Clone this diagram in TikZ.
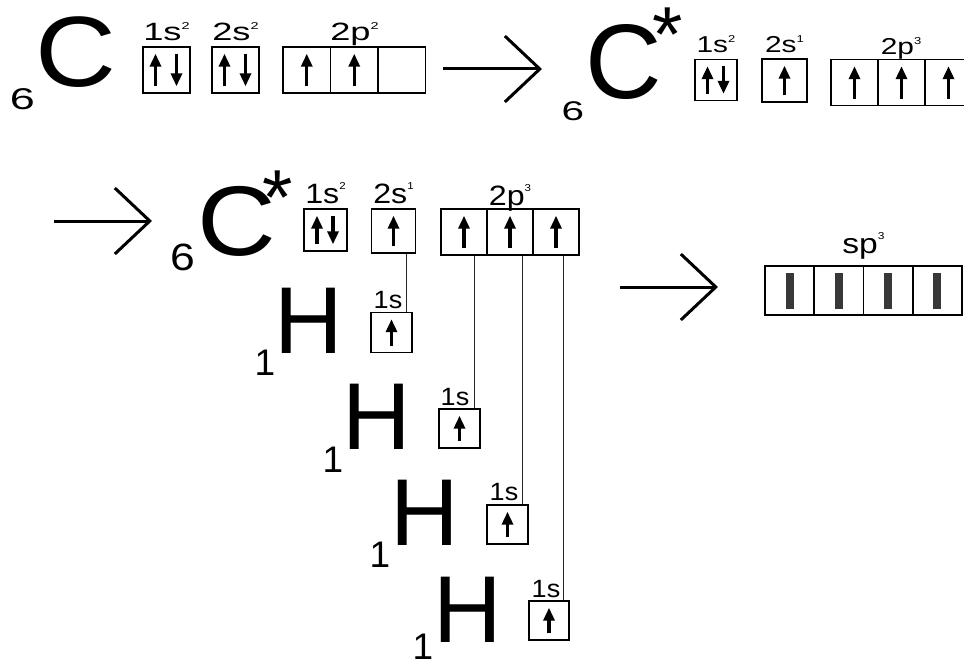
\documentclass[tikz,border=0pt]{standalone}
\usepackage{fontspec}
\usepackage{graphicx}
\setmainfont{Liberation Sans}
\usetikzlibrary{arrows.meta}

\newcommand\esup[1]{\raisebox{0.47em}{\fontsize{10}{10}\selectfont #1}}
\newcommand\wide[2]{\scalebox{#1}[1]{#2}}
\newcommand\spinup[2]{\draw[spin] ([xshift=#2]#1.south) -- ([xshift=#2]#1.north);}
\newcommand\spindn[2]{\draw[spin] ([xshift=#2]#1.north) -- ([xshift=#2]#1.south);}

\tikzset{
  glyph/.style={inner sep=0pt, anchor=base, font=\fontsize{#1}{#1}\selectfont},
  cell/.style 2 args={draw, line width=1.6pt, inner sep=0pt, minimum width=#1, minimum height=#2},
  spin/.style={line width=3.4pt, -{Triangle[length=13pt,width=11pt]}, shorten <=7.5pt, shorten >=7.5pt},
  bigarrow/.style={line width=3pt, -{Straight Barb[length=35pt,width=66pt]}},
  link/.style={line width=0.9pt, draw=black!85},
  bar/.style={fill=black!78, inner sep=0pt, minimum width=8pt, minimum height=36pt}
}

\begin{document}
\begin{tikzpicture}[x=1pt,y=-1pt]
  \useasboundingbox (0,0) rectangle (964,661);
  \clip (0,0) rectangle (964,661);
  \fill[white] (0,0) rectangle (964,661);
  % Carbon, ground state
  \node[glyph=30] (a6) at (22.5,110) {\wide{1.5}{6}};
  \node[glyph=100] (aC) at (76,87) {\wide{1.12}{C}};
  \node[glyph=25] (a1sl) at (166.5,41) {\wide{1.45}{1s\esup{2}}};
  \node[glyph=25] (a2sl) at (235.5,41) {\wide{1.45}{2s\esup{2}}};
  \node[glyph=25] (a2pl) at (354.5,41) {\wide{1.45}{2p\esup{2}}};
  \node[cell={47pt}{46pt}] (a1s) at (166.5,70) {};
  \node[cell={47pt}{46pt}] (a2s) at (235.5,70) {};
  \node[cell={47.5pt}{46pt}] (a2p1) at (306.75,70) {};
  \node[cell={47.5pt}{46pt}] (a2p2) at (354.25,70) {};
  \node[cell={47.5pt}{46pt}] (a2p3) at (401.75,70) {};
  \spinup{a1s}{-11pt} \spindn{a1s}{10pt}
  \spinup{a2s}{-11pt} \spindn{a2s}{10pt}
  \spinup{a2p1}{0pt} \spinup{a2p2}{0pt}
  \coordinate (ar1a) at (443,69);
  \coordinate (ar1b) at (542,69);
  \draw[bigarrow] (ar1a) -- (ar1b);

  % Carbon, excited state
  \node[glyph=27] (b6) at (573,120) {\wide{1.5}{6}};
  \node[glyph=106] (bC) at (624,98.5) {C};
  \node[glyph=78] (bstar) at (668,62) {*};
  \node[glyph=23] (b1sl) at (716,53) {\wide{1.3}{1s\esup{2}}};
  \node[glyph=23] (b2sl) at (784.5,53) {\wide{1.3}{2s\esup{1}}};
  \node[glyph=23] (b2pl) at (901,55) {\wide{1.3}{2p\esup{3}}};
  \node[cell={42pt}{41pt}] (b1s) at (716,80) {};
  \node[cell={45pt}{43pt}] (b2s) at (784.5,80.5) {};
  \node[cell={47pt}{46pt}] (b2p1) at (854.5,82.5) {};
  \node[cell={47pt}{46pt}] (b2p2) at (901.5,82.5) {};
  \node[cell={47pt}{46pt}] (b2p3) at (948.5,82.5) {};
  \spinup{b1s}{-8.5pt} \spindn{b1s}{7.5pt}
  \spinup{b2s}{0pt}
  \spinup{b2p1}{0pt} \spinup{b2p2}{0pt} \spinup{b2p3}{0pt}

  % Second line: C* and four H
  \coordinate (ar2a) at (54,221);
  \coordinate (ar2b) at (152,221);
  \draw[bigarrow] (ar2a) -- (ar2b);
  \node[glyph=38] (c6) at (182.5,270) {\wide{1.17}{6}};
  \node[glyph=99] (cC) at (237,255.5) {\wide{1.1}{C}};
  \node[glyph=78] (cstar) at (278,224) {*};
  \node[glyph=28] (c1sl) at (325.5,203) {\wide{1.15}{1s\esup{2}}};
  \node[glyph=28] (c2sl) at (393.5,203) {\wide{1.15}{2s\esup{1}}};
  \node[glyph=28] (c2pl) at (510,205) {\wide{1.15}{2p\esup{3}}};
  \node[cell={43pt}{42pt}] (c1s) at (325.5,230) {};
  \node[cell={44pt}{44pt}] (c2s) at (393.5,231) {};
  \node[cell={46pt}{46pt}] (c2p1) at (464,232) {};
  \node[cell={46pt}{46pt}] (c2p2) at (510,232) {};
  \node[cell={46pt}{46pt}] (c2p3) at (556,232) {};
  \spinup{c1s}{-8.5pt} \spindn{c1s}{7.5pt}
  \spinup{c2s}{0pt}
  \spinup{c2p1}{0pt} \spinup{c2p2}{0pt} \spinup{c2p3}{0pt}

  % Hydrogen atoms
  \node[glyph=95] (h1) at (308.5,353) {H};
  \node[glyph=37] (h1n) at (265,375) {1};
  \node[glyph=25] (h1l) at (388,308) {\wide{1.08}{1s}};
  \node[cell={41pt}{40pt}] (h1b) at (391.5,332.5) {};
  \node[glyph=95] (h2) at (376.5,449) {H};
  \node[glyph=37] (h2n) at (333,472) {1};
  \node[glyph=25] (h2l) at (455,405) {\wide{1.08}{1s}};
  \node[cell={41pt}{39pt}] (h2b) at (459.5,428.5) {};
  \node[glyph=95] (h3) at (425,545) {H};
  \node[glyph=37] (h3n) at (380,567) {1};
  \node[glyph=25] (h3l) at (504,500) {\wide{1.08}{1s}};
  \node[cell={41pt}{39pt}] (h3b) at (507.5,524.5) {};
  \node[glyph=95] (h4) at (467.5,642) {H};
  \node[glyph=37] (h4n) at (423,659.5) {1};
  \node[glyph=25] (h4l) at (546,597) {\wide{1.08}{1s}};
  \node[cell={40pt}{39pt}] (h4b) at (549,620.5) {};
  \spinup{h1b}{0pt} \spinup{h2b}{0pt} \spinup{h3b}{0pt} \spinup{h4b}{0pt}

  % Pairing lines
  \coordinate (t1) at ([xshift=-6pt]h1b.north east);
  \coordinate (t2) at ([xshift=-6pt]h2b.north east);
  \coordinate (t3) at ([xshift=-6pt]h3b.north east);
  \coordinate (t4) at ([xshift=-6pt]h4b.north east);
  \draw[link] (t1) -- (t1 |- c2s.south);
  \draw[link] (t2) -- (t2 |- c2p1.south);
  \draw[link] (t3) -- (t3 |- c2p2.south);
  \draw[link] (t4) -- (t4 |- c2p3.south);

  % Hybrid orbitals
  \coordinate (ar3a) at (620,287);
  \coordinate (ar3b) at (718,287);
  \draw[bigarrow] (ar3a) -- (ar3b);
  \node[glyph=28] (dl) at (863.5,253) {\wide{1.2}{sp\esup{3}}};
  \node[cell={49.25pt}{49pt}] (d1) at (789.6,290.5) {};
  \node[cell={49.25pt}{49pt}] (d2) at (838.9,290.5) {};
  \node[cell={49.25pt}{49pt}] (d3) at (888.1,290.5) {};
  \node[cell={49.25pt}{49pt}] (d4) at (937.4,290.5) {};
  \node[bar] (e1) at (d1) {};
  \node[bar] (e2) at (d2) {};
  \node[bar] (e3) at (d3) {};
  \node[bar] (e4) at (d4) {};
\end{tikzpicture}
\end{document}
